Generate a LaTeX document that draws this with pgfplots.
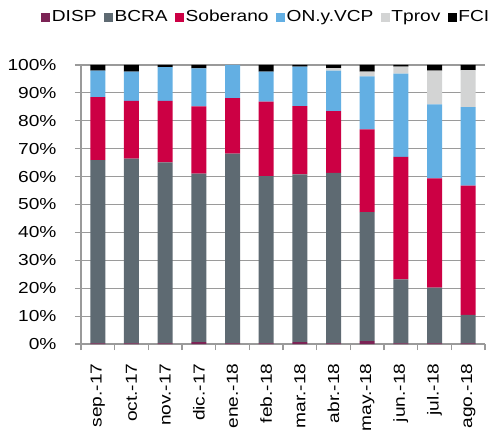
\documentclass[border=0pt]{standalone}
\usepackage{pgfplots}
\pgfplotsset{compat=1.18}
\usepackage{fontspec}
\setmainfont{Liberation Sans}[FakeStretch=1.2]
\definecolor{cDISP}{HTML}{7B2355}
\definecolor{cBCRA}{HTML}{5E6A72}
\definecolor{cSob}{HTML}{CC0044}
\definecolor{cON}{HTML}{63AFE3}
\definecolor{cTprov}{HTML}{D3D4D4}
\definecolor{cFCI}{HTML}{000000}
\definecolor{gridgray}{HTML}{9A9A9A}
\begin{document}
\fontsize{16}{19}\selectfont
\begin{tikzpicture}
\useasboundingbox (-81bp,-90bp) rectangle (415bp,344bp);
\begin{axis}[
  at={(0,0)}, anchor=south west,
  scale only axis, width=404bp, height=279bp,
  ybar stacked, bar width=15bp,
  xmin=-0.5, xmax=11.5, ymin=0, ymax=100,
  xtick={0,...,11},
  xticklabels={sep.-17,oct.-17,nov.-17,dic.-17,ene.-18,feb.-18,mar.-18,abr.-18,may.-18,jun.-18,jul.-18,ago.-18},
  tick label style={font=\fontsize{16}{19}\selectfont},
  x tick label style={rotate=90, anchor=east, xshift=-8bp},
  major x tick style={draw=none},
  minor xtick={-0.5,0.5,...,11.5},
  minor x tick style={gridgray, line width=1.2bp},
  minor tick length=6bp,
  major tick length=6bp,
  tick align=outside,
  ytick={0,10,...,100},
  yticklabel={\pgfmathprintnumber{\tick}\%},
  y tick label style={xshift=-13bp},
  /pgf/number format/assume math mode=true,
  ymajorgrids,
  grid style={gridgray, line width=1.2bp},
  major y tick style={gridgray, line width=1.2bp},
  axis x line*=bottom, axis y line*=left,
  axis line style={gridgray, line width=1.2bp},
  legend style={draw=none, fill=none, at={(0.458,1.172)}, anchor=center,
    /tikz/every even column/.append style={column sep=6bp}, inner sep=0pt,
    nodes={inner sep=1.5bp}, font=\fontsize{16}{19}\selectfont},
  legend columns=-1,
  legend image code/.code={\fill[#1] (0bp,-4.5bp) rectangle (9bp,4.5bp);},
  legend cell align=left,
]
\addplot[fill=cDISP, draw=none] coordinates {(0,0.2) (1,0.2) (2,0.2) (3,0.7) (4,0.2) (5,0.2) (6,0.7) (7,0.2) (8,1.0) (9,0.2) (10,0.2) (11,0.2)};
\addplot[fill=cBCRA, draw=none] coordinates {(0,65.7) (1,66.2) (2,64.9) (3,60.4) (4,68.0) (5,60.0) (6,60.1) (7,61.1) (8,46.3) (9,23.0) (10,20.0) (11,10.2)};
\addplot[fill=cSob, draw=none] coordinates {(0,22.6) (1,20.7) (2,22.0) (3,24.1) (4,19.9) (5,26.7) (6,24.5) (7,22.2) (8,29.6) (9,43.9) (10,39.2) (11,46.4)};
\addplot[fill=cON, draw=none] coordinates {(0,9.5) (1,10.5) (2,12.1) (3,13.6) (4,11.9) (5,10.7) (6,14.1) (7,14.5) (8,19.0) (9,29.8) (10,26.5) (11,28.1)};
\addplot[fill=cTprov, draw=none] coordinates {(0,0) (1,0) (2,0) (3,0) (4,0) (5,0) (6,0) (7,0.9) (8,1.7) (9,2.5) (10,12.1) (11,13.3)};
\addplot[fill=cFCI, draw=none] coordinates {(0,2.0) (1,2.4) (2,0.8) (3,1.2) (4,0) (5,2.4) (6,0.6) (7,1.1) (8,2.4) (9,0.6) (10,2.0) (11,1.8)};
\legend{DISP,BCRA,Soberano,ON.y.VCP,Tprov,FCI}
\end{axis}
\end{tikzpicture}
\end{document}
